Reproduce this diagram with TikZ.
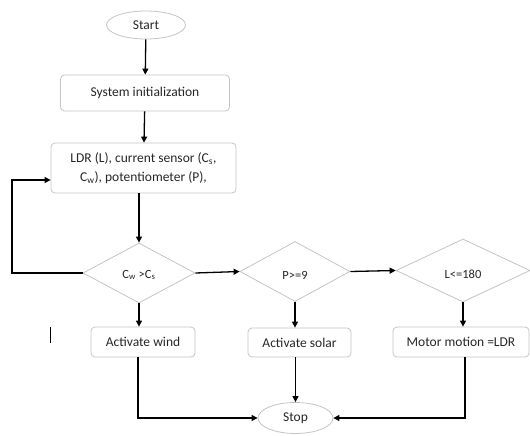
\documentclass[tikz,border=0pt]{standalone}
\usepackage{fontspec}
\setmainfont{Carlito}
\usetikzlibrary{shapes.geometric,arrows.meta,calc}
\definecolor{edgegray}{HTML}{C4C4C4}
\definecolor{txt}{HTML}{262626}
\begin{document}
\begin{tikzpicture}[x=1pt,y=-1pt,
  base/.style={draw=edgegray,line width=0.8pt,text=txt,inner sep=0pt,font=\fontsize{13.5}{19}\selectfont},
  term/.style={base,ellipse},
  proc/.style={base,rectangle,rounded corners=4pt},
  dec/.style={base,diamond,font=\fontsize{12.5}{14}\selectfont},
  dtext/.style={text=txt,inner sep=0pt,font=\fontsize{12.5}{14}\selectfont},
  flow/.style={line width=1.3pt,-{Triangle[length=6pt,width=6pt]}}]
\useasboundingbox (0,0) rectangle (530,436);
\node[term,minimum width=79pt,minimum height=28pt] (start) at (146,25) {Start};
\node[proc,minimum width=169pt,minimum height=36pt] (sys) at (145,93) {System initialization};
\node[proc,minimum width=185pt,minimum height=50pt,align=center] (ldr) at (143.5,168)
  {LDR (L), current sensor (C\textsubscript{s},\\ C\textsubscript{w}), potentiometer (P),};
\node[dec,minimum width=112pt,minimum height=60pt] (d1) at (139,273) {};
\node[dec,minimum width=110pt,minimum height=60pt] (d2) at (295,271.5) {};
\node[dec,minimum width=134pt,minimum height=63pt] (d3) at (463,270.5) {};
\node[dtext] (t1) at ([yshift=-2pt]d1.center) {C\textsubscript{w} >C\textsubscript{s}};
\node[dtext] (t2) at ([yshift=-4pt]d2.center) {P>=9};
\node[dtext] (t3) at ([yshift=-4pt]d3.center) {L<=180};
\node[proc,minimum width=104pt,minimum height=30pt] (wind) at (143,342) {Activate wind};
\node[proc,minimum width=103pt,minimum height=29pt] (solar) at (299.5,342.5) {Activate solar};
\node[proc,minimum width=136pt,minimum height=30pt] (motor) at (461,342) {Motor motion =LDR};
\node[term,minimum width=75pt,minimum height=31pt] (stop) at (295.5,418) {Stop};
\coordinate (fb) at (12,180);
\draw[flow] (start) -- (sys);
\draw[flow] (sys) -- (ldr);
\draw[flow] (ldr.south -| d1.north) -- (d1.north);
\draw[flow] (d1.west) -| (fb) -- (fb -| ldr.west);
\draw[flow] (d1.east) -- (d2.west);
\draw[flow] (d2.east) -- (d3.west);
\draw[flow] (d1.south) -- (d1.south |- wind.north);
\draw[flow] (d2.south) -- (d2.south |- solar.north);
\draw[flow] (d3.south) -- (d3.south |- motor.north);
\draw[flow] ([xshift=-5pt]wind.south) |- (stop.west);
\draw[flow] (solar.south -| stop.north) -- (stop.north);
\draw[flow] ([xshift=4pt]motor.south) |- (stop.east);
\draw[line width=0.8pt] (50,327) -- (50,343);
\end{tikzpicture}
\end{document}
